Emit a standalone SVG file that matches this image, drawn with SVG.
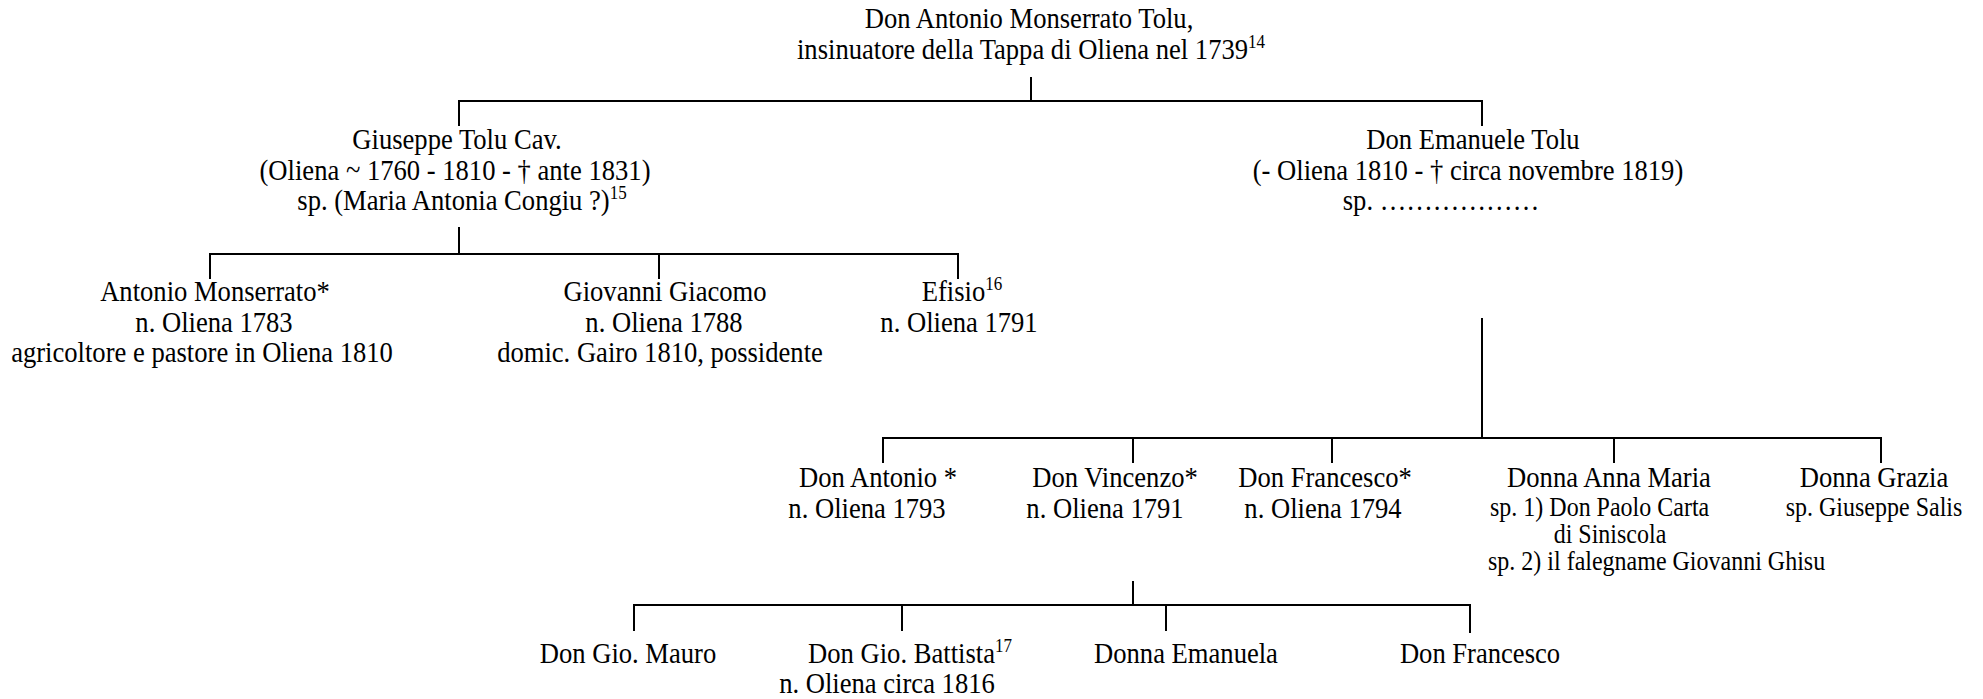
<svg xmlns="http://www.w3.org/2000/svg" width="1983" height="699" viewBox="0 0 1983 699">
  <style>
    /* Times-metric serif, drawn slightly taller than wide (see the scale in each transform) */
    text { font-family: "Liberation Serif", "Times New Roman", serif; font-size: 26.6px; fill: #000; text-anchor: middle; }
    text.sm { font-size: 24px; }
    text.left { text-anchor: start; }
    tspan.sup { font-size: 17px; }
    #connectors line { stroke: #000; stroke-width: 2; stroke-linecap: square; }
  </style>
  <rect x="0" y="0" width="1983" height="699" fill="#fff"/>

  <!-- family tree connectors -->
  <g id="connectors">
    <!-- Don Antonio Monserrato Tolu to his two sons -->
    <line x1="1031" y1="78" x2="1031" y2="101"/>
    <line x1="459" y1="101" x2="1482" y2="101"/>
    <line x1="459" y1="101" x2="459" y2="125"/>
    <line x1="1482" y1="101" x2="1482" y2="125"/>

    <!-- Giuseppe Tolu Cav. to his children -->
    <line x1="459" y1="228" x2="459" y2="254"/>
    <line x1="210" y1="254" x2="958" y2="254"/>
    <line x1="210" y1="254" x2="210" y2="278"/>
    <line x1="659" y1="254" x2="659" y2="278"/>
    <line x1="958" y1="254" x2="958" y2="278"/>

    <!-- Don Emanuele Tolu to his children -->
    <line x1="1482" y1="319" x2="1482" y2="438"/>
    <line x1="883" y1="438" x2="1881" y2="438"/>
    <line x1="883" y1="438" x2="883" y2="462"/>
    <line x1="1133" y1="438" x2="1133" y2="462"/>
    <line x1="1332" y1="438" x2="1332" y2="462"/>
    <line x1="1614" y1="438" x2="1614" y2="462"/>
    <line x1="1881" y1="438" x2="1881" y2="462"/>

    <!-- Don Vincenzo to his children -->
    <line x1="1133" y1="582" x2="1133" y2="605"/>
    <line x1="634" y1="605" x2="1470" y2="605"/>
    <line x1="634" y1="605" x2="634" y2="630"/>
    <line x1="902" y1="605" x2="902" y2="630"/>
    <line x1="1166" y1="605" x2="1166" y2="630"/>
    <line x1="1470" y1="605" x2="1470" y2="632"/>
  </g>

  <g id="antonio-monserrato-tolu-sr">
    <text transform="translate(1029 28) scale(1 1.1)">Don Antonio Monserrato Tolu,</text>
    <text transform="translate(1031 58.5) scale(1 1.1)">insinuatore della Tappa di Oliena nel 1739<tspan class="sup" dy="-10">14</tspan></text>
  </g>

  <g id="giuseppe-tolu">
    <text transform="translate(457 149) scale(1 1.1)">Giuseppe Tolu Cav.</text>
    <text transform="translate(455 179.5) scale(1 1.1)">(Oliena ~ 1760 - 1810 - † ante 1831)</text>
    <text transform="translate(462 210) scale(1 1.1)">sp. (Maria Antonia Congiu ?)<tspan class="sup" dy="-10">15</tspan></text>
  </g>

  <g id="emanuele-tolu">
    <text transform="translate(1473 149) scale(1 1.1)">Don Emanuele Tolu</text>
    <text transform="translate(1468 179.5) scale(1 1.1)">(- Oliena 1810 - † circa novembre 1819)</text>
    <text transform="translate(1441 210) scale(1 1.1)">sp. ………………</text>
  </g>

  <g id="antonio-monserrato">
    <text transform="translate(215 301) scale(1 1.1)">Antonio Monserrato*</text>
    <text transform="translate(214 331.5) scale(1 1.1)">n. Oliena 1783</text>
    <text transform="translate(202 362) scale(1 1.1)">agricoltore e pastore in Oliena 1810</text>
  </g>

  <g id="giovanni-giacomo">
    <text transform="translate(665 301) scale(1 1.1)">Giovanni Giacomo</text>
    <text transform="translate(664 331.5) scale(1 1.1)">n. Oliena 1788</text>
    <text transform="translate(660 362) scale(1 1.1)">domic. Gairo 1810, possidente</text>
  </g>

  <g id="efisio">
    <text transform="translate(962 301) scale(1 1.1)">Efisio<tspan class="sup" dy="-10">16</tspan></text>
    <text transform="translate(959 331.5) scale(1 1.1)">n. Oliena 1791</text>
  </g>

  <g id="don-antonio">
    <text transform="translate(878 487) scale(1 1.1)">Don Antonio *</text>
    <text transform="translate(867 517.5) scale(1 1.1)">n. Oliena 1793</text>
  </g>

  <g id="don-vincenzo">
    <text transform="translate(1115 487) scale(1 1.1)">Don Vincenzo*</text>
    <text transform="translate(1105 517.5) scale(1 1.1)">n. Oliena 1791</text>
  </g>

  <g id="don-francesco">
    <text transform="translate(1325 487) scale(1 1.1)">Don Francesco*</text>
    <text transform="translate(1323 517.5) scale(1 1.1)">n. Oliena 1794</text>
  </g>

  <g id="donna-anna-maria">
    <text transform="translate(1609 487) scale(1 1.1)">Donna Anna Maria</text>
    <text class="sm left" transform="translate(1490 516) scale(1 1.1)">sp. 1) Don Paolo Carta</text>
    <text class="sm" transform="translate(1610 543) scale(1 1.1)">di Siniscola</text>
    <text class="sm left" transform="translate(1488 570) scale(1 1.1)">sp. 2) il falegname Giovanni Ghisu</text>
  </g>

  <g id="donna-grazia">
    <text transform="translate(1874 487) scale(1 1.1)">Donna Grazia</text>
    <text class="sm" transform="translate(1874 516) scale(1 1.1)">sp. Giuseppe Salis</text>
  </g>

  <g id="don-gio-mauro">
    <text transform="translate(628 663) scale(1 1.1)">Don Gio. Mauro</text>
  </g>

  <g id="don-gio-battista">
    <text transform="translate(910 663) scale(1 1.1)">Don Gio. Battista<tspan class="sup" dy="-10">17</tspan></text>
    <text transform="translate(887 692.5) scale(1 1.1)">n. Oliena circa 1816</text>
  </g>

  <g id="donna-emanuela">
    <text transform="translate(1186 663) scale(1 1.1)">Donna Emanuela</text>
  </g>

  <g id="don-francesco-jr">
    <text transform="translate(1480 663) scale(1 1.1)">Don Francesco</text>
  </g>
</svg>
